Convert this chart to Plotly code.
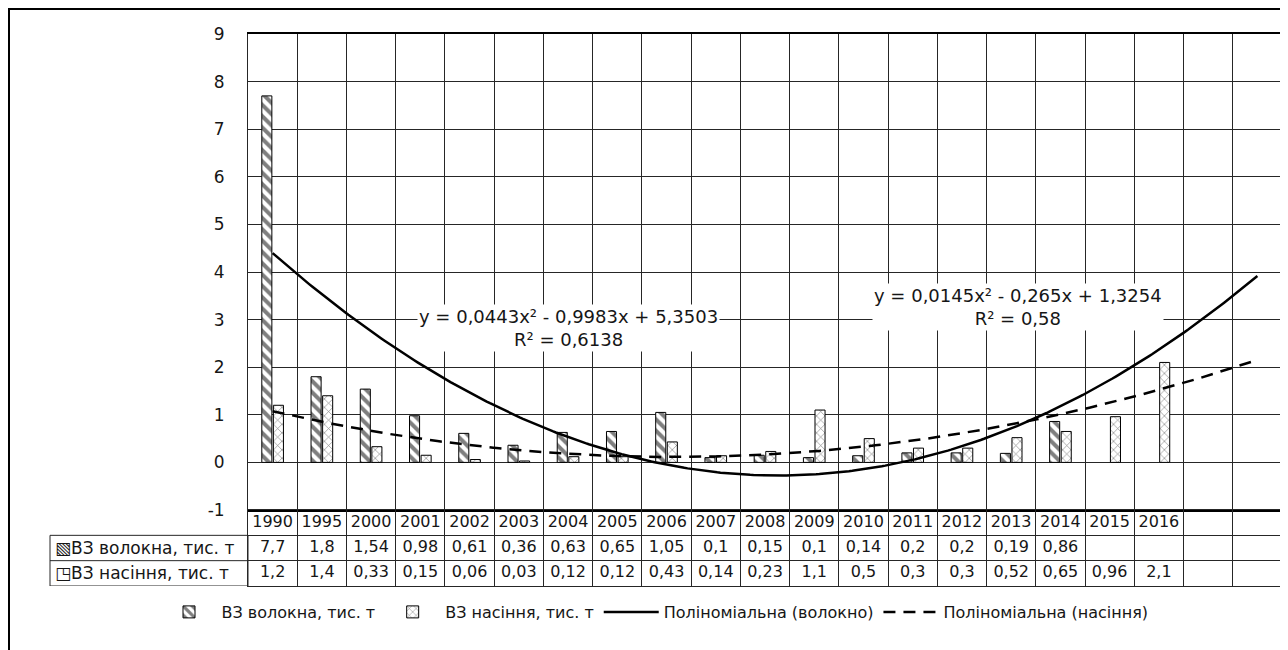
import numpy as np
import plotly.graph_objects as go

# ---- data ----
years = ["1990", "1995", "2000", "2001", "2002", "2003", "2004", "2005", "2006",
         "2007", "2008", "2009", "2010", "2011", "2012", "2013", "2014", "2015", "2016"]
extra_cols = ["", ""]  # forecast columns of the trend lines
fiber = [7.7, 1.8, 1.54, 0.98, 0.61, 0.36, 0.63, 0.65, 1.05, 0.1, 0.15, 0.1, 0.14,
         0.2, 0.2, 0.19, 0.86]
seed = [1.2, 1.4, 0.33, 0.15, 0.06, 0.03, 0.12, 0.12, 0.43, 0.14, 0.23, 1.1, 0.5,
        0.3, 0.3, 0.52, 0.65, 0.96, 2.1]
fiber_name = "ВЗ волокна, тис. т"
seed_name = "ВЗ насіння, тис. т"
trend_fiber_name = "Поліноміальна (волокно)"
trend_seed_name = "Поліноміальна (насіння)"
eq_fiber = "y = 0,0443x² - 0,9983x + 5,3503<br>R² = 0,6138"
eq_seed = "y = 0,0145x² - 0,265x + 1,3254<br>R² = 0,58"
y_ticks = list(range(-1, 10))

categories = years + extra_cols
n_cols = len(categories)
x_all = np.arange(1, n_cols + 1)
x_fiber = np.arange(1, len(fiber) + 1)
x_seed = np.arange(1, len(seed) + 1)

# polynomial (order 2) trend lines fitted to the data, as in the source chart
cf = np.polyfit(x_fiber, fiber, 2)
cs = np.polyfit(x_seed, seed, 2)
xs = np.linspace(1, n_cols, 300)
tf = np.polyval(cf, xs)
ts = np.polyval(cs, xs)

def fmt(v):
    return ("%g" % v).replace(".", ",")

FONT = "DejaVu Sans"
TXT = "#161616"
GRID = "#262626"

fig = go.Figure()
fig.add_trace(go.Bar(
    x=x_fiber, y=fiber, name=fiber_name,
    marker=dict(color="white", line=dict(color="black", width=1),
                pattern=dict(shape="\\", fgcolor="black", bgcolor="white",
                             size=8, solidity=0.5)),
))
fig.add_trace(go.Bar(
    x=x_seed, y=seed, name=seed_name,
    marker=dict(color="white", line=dict(color="black", width=1),
                pattern=dict(shape="x", fgcolor="black", bgcolor="white",
                             size=6, solidity=0.2)),
))
fig.add_trace(go.Scatter(
    x=xs, y=tf, mode="lines", name=trend_fiber_name,
    line=dict(color="black", width=2.5),
))
fig.add_trace(go.Scatter(
    x=xs, y=ts, mode="lines", name=trend_seed_name,
    line=dict(color="black", width=2.5, dash="12px,8px"),
))

# data table rows (text in the table subplot)
fig.add_trace(go.Scatter(
    x=x_all[:len(years)], y=[2.5] * len(years), text=years, mode="text",
    textfont=dict(family=FONT, size=16, color=TXT), xaxis="x2", yaxis="y2",
    showlegend=False, hoverinfo="skip",
))
fig.add_trace(go.Scatter(
    x=x_fiber, y=[1.5] * len(fiber), text=[fmt(v) for v in fiber], mode="text",
    textfont=dict(family=FONT, size=16, color=TXT), xaxis="x2", yaxis="y2",
    showlegend=False, hoverinfo="skip",
))
fig.add_trace(go.Scatter(
    x=x_seed, y=[0.5] * len(seed), text=[fmt(v) for v in seed], mode="text",
    textfont=dict(family=FONT, size=16, color=TXT), xaxis="x2", yaxis="y2",
    showlegend=False, hoverinfo="skip",
))

# page offset: the browser places the figure 8px from the top-left corner
OFF = 8
W, H = 1288, 650
L, R, T, B = 248 - OFF, 1288 - 1282 + OFF, 34 - OFF, 650 - 586 + OFF
pw, ph = W - L - R, H - T - B
table_h = 76
split = table_h / ph

def px(xscr):
    return (xscr - OFF - L) / pw

def py(yscr):
    return (H - B - (yscr - OFF)) / ph

boundaries = np.arange(0.5, n_cols + 1, 1.0)

axis_common = dict(range=[0.5, n_cols + 0.5], tickmode="array", tickvals=boundaries,
                   showgrid=True, gridcolor=GRID, gridwidth=1, showticklabels=False,
                   ticks="", zeroline=False)

fig.update_layout(
    width=W, height=H,
    margin=dict(l=L, r=R, t=T, b=B, autoexpand=False),
    paper_bgcolor="white", plot_bgcolor="white",
    font=dict(family=FONT, color=TXT, size=16),
    barmode="group", bargap=0.53, bargroupgap=0.13,
    xaxis=dict(**axis_common, anchor="y", showline=True, linecolor="black",
               linewidth=2, mirror=True),
    yaxis=dict(domain=[split, 1], range=[-1, 9], tickmode="array", tickvals=y_ticks,
               ticktext=[str(v) for v in y_ticks],
               showgrid=True, gridcolor=GRID, gridwidth=1, zeroline=False,
               showline=True, linecolor=GRID, ticks="", ticklabelstandoff=19,
               tickfont=dict(family=FONT, size=17, color=TXT), anchor="x"),
    xaxis2=dict(**axis_common, anchor="y2", matches="x", showline=True,
                linecolor=GRID, mirror=True),
    yaxis2=dict(domain=[0, split], range=[0, 3], tickmode="array", tickvals=[0, 1, 2, 3],
                showgrid=True, gridcolor=GRID, showticklabels=False, ticks="",
                zeroline=False, showline=True, linecolor=GRID, mirror=True, anchor="x2"),
    showlegend=True,
    legend=dict(orientation="h", xref="container", yref="container",
                x=(655 - OFF) / W, xanchor="center", y=1 - (612 - OFF) / H,
                yanchor="middle",
                font=dict(family=FONT, size=16, color=TXT), itemwidth=55,
                bgcolor="rgba(0,0,0,0)"),
)

# equation labels
fig.add_annotation(x=7.0, y=2.82, xref="x", yref="y", text=eq_fiber, showarrow=False,
                   bgcolor="white", font=dict(family=FONT, size=18, color=TXT),
                   align="center", borderpad=1)
fig.add_annotation(x=16.14, y=3.26, xref="x", yref="y", text=eq_seed, showarrow=False,
                   bgcolor="white", font=dict(family=FONT, size=18, color=TXT),
                   align="center", borderpad=1)

# table row headers
fig.add_shape(type="rect", xref="paper", yref="y2", x0=px(50), x1=0, y0=0, y1=2,
              line=dict(color=GRID, width=1))
fig.add_shape(type="line", xref="paper", yref="y2", x0=px(50), x1=0, y0=1, y1=1,
              line=dict(color=GRID, width=1))
fig.add_annotation(x=px(53), y=1.5, xref="paper", yref="y2", xanchor="left",
                   text="▧" + fiber_name, showarrow=False,
                   font=dict(family=FONT, size=17, color=TXT))
fig.add_annotation(x=px(53), y=0.5, xref="paper", yref="y2", xanchor="left",
                   text="◳" + seed_name, showarrow=False,
                   font=dict(family=FONT, size=17, color=TXT))

# outer chart frame
fig.add_shape(type="rect", xref="paper", yref="paper",
              x0=px(8), x1=px(1284), y0=py(670), y1=py(8),
              line=dict(color="black", width=4), layer="above")

fig.write_html("out.html")
